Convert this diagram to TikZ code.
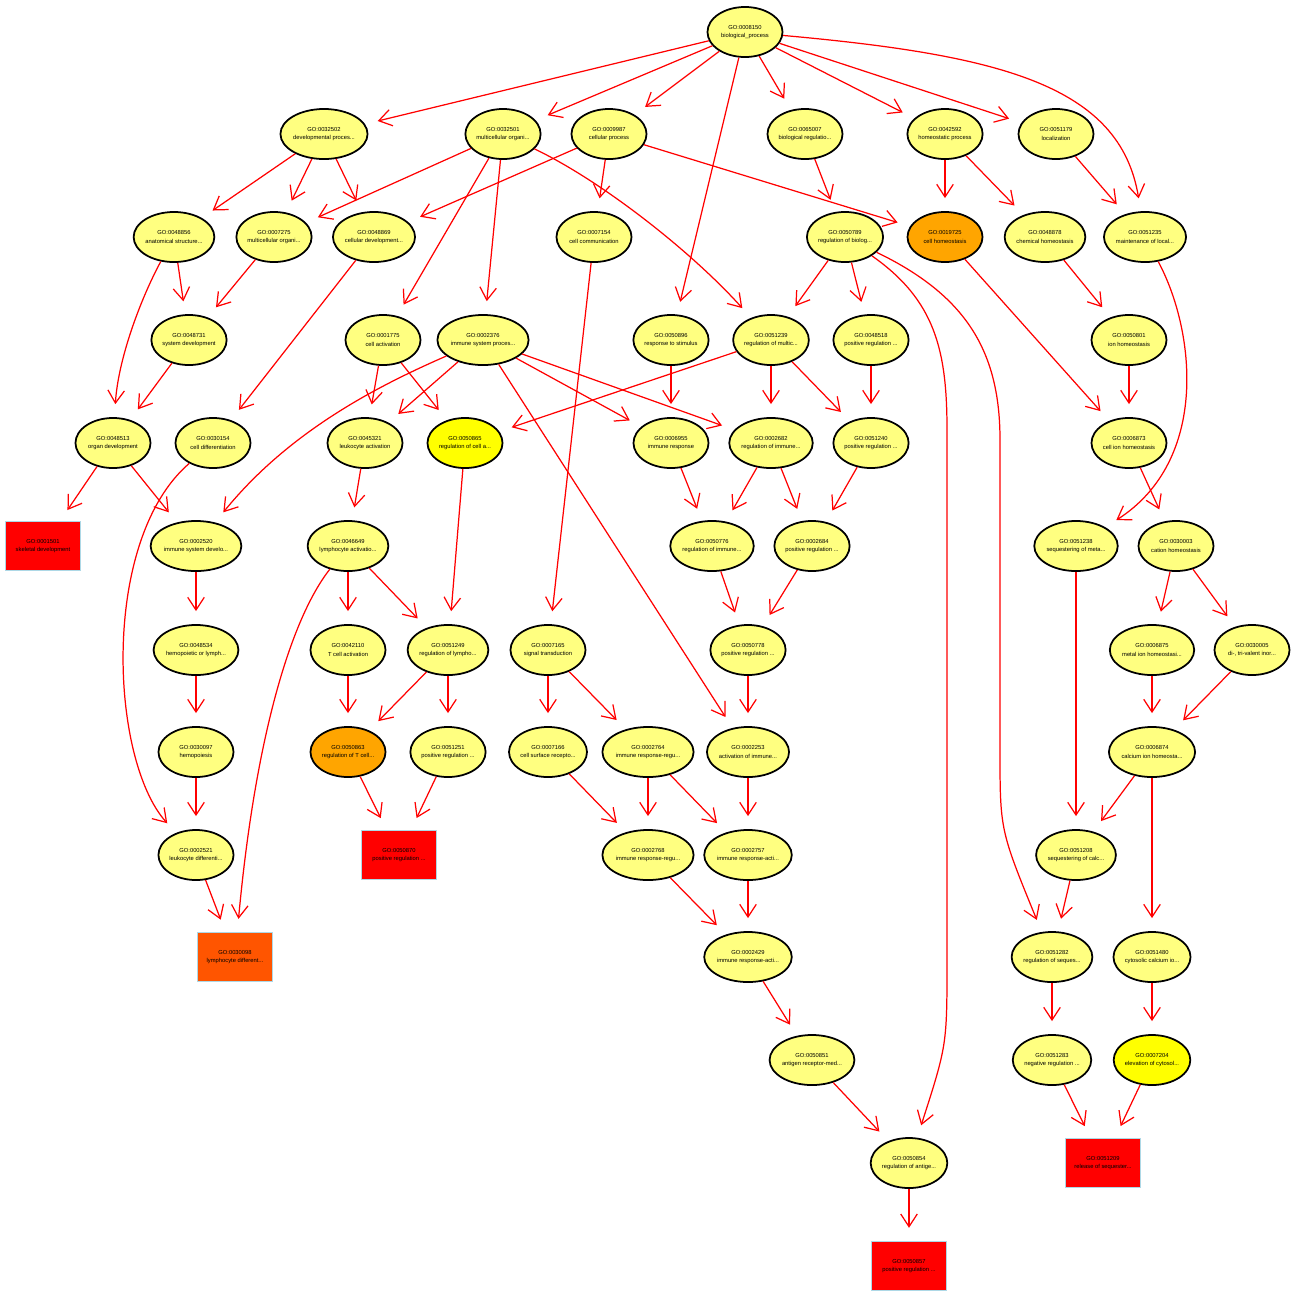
\documentclass[tikz,border=0pt]{standalone}
\usepackage{fontspec}
\setmainfont{Liberation Sans}
\usepackage{xcolor}
\usepackage{tikz}
\usetikzlibrary{arrows.meta,shapes.geometric}

\definecolor{pale}{RGB}{255,255,128}
\definecolor{bright}{RGB}{255,255,0}
\definecolor{orng}{RGB}{255,165,0}
\definecolor{dorng}{RGB}{255,85,0}
\definecolor{hot}{RGB}{255,0,0}
\definecolor{rim}{RGB}{173,216,230}

\begin{document}
\begin{tikzpicture}[x=0.01cm,y=0.01cm,
	go/.style={ellipse, draw=black, line width=0.5pt, fill=pale, minimum width=0.75cm, minimum height=0.5cm, inner sep=0pt, align=center, font=\fontsize{1.65}{2.3}\selectfont},
	gobox/.style={rectangle, draw=rim, line width=0.4pt, fill=hot, minimum width=0.75cm, minimum height=0.49cm, inner sep=0pt, align=center, font=\fontsize{1.65}{2.3}\selectfont},
	edge/.style={draw=red, line width=0.35pt, -{Straight Barb[length=3.6pt,width=4.7pt]}, shorten >=0.13cm}]
	\useasboundingbox (0,0) rectangle (1303,-1290);
	
	\node[go] (g0008150) at (745,-32) {GO:0008150\\biological\_process};
	
	\node[go] (g0032502) at (324,-134) {GO:0032502\\developmental proces...};
	\node[go] (g0032501) at (503,-134) {GO:0032501\\multicellular organi...};
	\node[go] (g0009987) at (609,-134) {GO:0009987\\cellular process};
	\node[go] (g0065007) at (805,-134) {GO:0065007\\biological regulatio...};
	\node[go] (g0042592) at (945,-134) {GO:0042592\\homeostatic process};
	\node[go] (g0051179) at (1056,-134) {GO:0051179\\localization};
	
	\node[go] (g0048856) at (174,-237) {GO:0048856\\anatomical structure...};
	\node[go] (g0007275) at (274,-237) {GO:0007275\\multicellular organi...};
	\node[go] (g0048869) at (374,-237) {GO:0048869\\cellular development...};
	\node[go] (g0007154) at (594,-237) {GO:0007154\\cell communication};
	\node[go] (g0050789) at (845,-237) {GO:0050789\\regulation of biolog...};
	\node[go, fill=orng] (g0019725) at (945,-237) {GO:0019725\\cell homeostasis};
	\node[go] (g0048878) at (1045,-237) {GO:0048878\\chemical homeostasis};
	\node[go] (g0051235) at (1145,-237) {GO:0051235\\maintenance of local...};
	
	\node[go] (g0048731) at (189,-340) {GO:0048731\\system development};
	\node[go] (g0001775) at (383,-340) {GO:0001775\\cell activation};
	\node[go] (g0002376) at (483,-340) {GO:0002376\\immune system proces...};
	\node[go] (g0050896) at (671,-340) {GO:0050896\\response to stimulus};
	\node[go] (g0051239) at (771,-340) {GO:0051239\\regulation of multic...};
	\node[go] (g0048518) at (871,-340) {GO:0048518\\positive regulation ...};
	\node[go] (g0050801) at (1129,-340) {GO:0050801\\ion homeostasis};
	
	\node[go] (g0048513) at (113,-443) {GO:0048513\\organ development};
	\node[go] (g0030154) at (213,-443) {GO:0030154\\cell differentiation};
	\node[go] (g0045321) at (365,-443) {GO:0045321\\leukocyte activation};
	\node[go, fill=bright] (g0050865) at (465,-443) {GO:0050865\\regulation of cell a...};
	\node[go] (g0006955) at (671,-443) {GO:0006955\\immune response};
	\node[go] (g0002682) at (771,-443) {GO:0002682\\regulation of immune...};
	\node[go] (g0051240) at (871,-443) {GO:0051240\\positive regulation ...};
	\node[go] (g0006873) at (1129,-443) {GO:0006873\\cell ion homeostasis};
	
	\node[gobox] (g0001501) at (43,-546) {GO:0001501\\skeletal development};
	\node[go] (g0002520) at (196,-546) {GO:0002520\\immune system develo...};
	\node[go] (g0046649) at (348,-546) {GO:0046649\\lymphocyte activatio...};
	\node[go] (g0050776) at (712,-546) {GO:0050776\\regulation of immune...};
	\node[go] (g0002684) at (812,-546) {GO:0002684\\positive regulation ...};
	\node[go] (g0051238) at (1076,-546) {GO:0051238\\sequestering of meta...};
	\node[go] (g0030003) at (1176,-546) {GO:0030003\\cation homeostasis};
	
	\node[go] (g0048534) at (196,-650) {GO:0048534\\hemopoietic or lymph...};
	\node[go] (g0042110) at (348,-650) {GO:0042110\\T cell activation};
	\node[go] (g0051249) at (448,-650) {GO:0051249\\regulation of lympho...};
	\node[go] (g0007165) at (548,-650) {GO:0007165\\signal transduction};
	\node[go] (g0050778) at (748,-650) {GO:0050778\\positive regulation ...};
	\node[go] (g0006875) at (1152,-650) {GO:0006875\\metal ion homeostasi...};
	\node[go] (g0030005) at (1252,-650) {GO:0030005\\di-, tri-valent inor...};
	
	\node[go] (g0030097) at (196,-752) {GO:0030097\\hemopoiesis};
	\node[go, fill=orng] (g0050863) at (348,-752) {GO:0050863\\regulation of T cell...};
	\node[go] (g0051251) at (448,-752) {GO:0051251\\positive regulation ...};
	\node[go] (g0007166) at (548,-752) {GO:0007166\\cell surface recepto...};
	\node[go] (g0002764) at (648,-752) {GO:0002764\\immune response-regu...};
	\node[go] (g0002253) at (748,-752) {GO:0002253\\activation of immune...};
	\node[go] (g0006874) at (1152,-752) {GO:0006874\\calcium ion homeosta...};
	
	\node[go] (g0002521) at (196,-855) {GO:0002521\\leukocyte differenti...};
	\node[gobox] (g0050870) at (399,-855) {GO:0050870\\positive regulation ...};
	\node[go] (g0002768) at (648,-855) {GO:0002768\\immune response-regu...};
	\node[go] (g0002757) at (748,-855) {GO:0002757\\immune response-acti...};
	\node[go] (g0051208) at (1076,-855) {GO:0051208\\sequestering of calc...};
	
	\node[gobox, fill=dorng] (g0030098) at (235,-957) {GO:0030098\\lymphocyte different...};
	\node[go] (g0002429) at (748,-957) {GO:0002429\\immune response-acti...};
	\node[go] (g0051282) at (1052,-957) {GO:0051282\\regulation of seques...};
	\node[go] (g0051480) at (1152,-957) {GO:0051480\\cytosolic calcium io...};
	
	\node[go] (g0050851) at (812,-1060) {GO:0050851\\antigen receptor-med...};
	\node[go] (g0051283) at (1052,-1060) {GO:0051283\\negative regulation ...};
	\node[go, fill=bright] (g0007204) at (1152,-1060) {GO:0007204\\elevation of cytosol...};
	
	\node[go] (g0050854) at (909,-1163) {GO:0050854\\regulation of antige...};
	\node[gobox] (g0051209) at (1103,-1163) {GO:0051209\\release of sequester...};
	
	\node[gobox] (g0050857) at (909,-1266) {GO:0050857\\positive regulation ...};
	
	\foreach \a/\b in {0008150/0032502, 0008150/0032501, 0008150/0009987, 0008150/0050896,
		0008150/0065007, 0008150/0042592, 0008150/0051179,
		0032502/0048856, 0032502/0007275, 0032502/0048869,
		0032501/0007275, 0032501/0001775, 0032501/0002376,
		0009987/0048869, 0009987/0007154, 0009987/0019725,
		0065007/0050789, 0042592/0019725, 0042592/0048878, 0051179/0051235,
		0048856/0048731, 0007275/0048731, 0048869/0030154, 0007154/0007165,
		0050789/0051239, 0050789/0048518, 0019725/0006873, 0048878/0050801,
		0048731/0048513, 0001775/0045321, 0001775/0050865,
		0002376/0045321, 0002376/0006955, 0002376/0002682, 0002376/0002253,
		0050896/0006955, 0051239/0050865, 0051239/0002682, 0051239/0051240,
		0048518/0051240, 0050801/0006873,
		0048513/0001501, 0048513/0002520, 0045321/0046649, 0050865/0051249,
		0006955/0050776, 0002682/0050776, 0002682/0002684, 0051240/0002684,
		0006873/0030003, 0002520/0048534, 0046649/0042110, 0046649/0051249,
		0050776/0050778, 0002684/0050778, 0051238/0051208,
		0030003/0006875, 0030003/0030005, 0048534/0030097, 0042110/0050863,
		0051249/0050863, 0051249/0051251, 0007165/0007166, 0007165/0002764,
		0050778/0002253, 0006875/0006874, 0030005/0006874, 0030097/0002521,
		0050863/0050870, 0051251/0050870, 0007166/0002768,
		0002764/0002768, 0002764/0002757, 0002253/0002757,
		0006874/0051208, 0006874/0051480, 0002521/0030098,
		0002768/0002429, 0002757/0002429, 0051208/0051282,
		0002429/0050851, 0051282/0051283, 0051480/0007204,
		0050851/0050854, 0051283/0051209, 0007204/0051209, 0050854/0050857}{
		\draw[edge] (g\a) -- (g\b);
	}
	
	\draw[edge] (g0008150) .. controls (1000,-55) and (1120,-85) .. (g0051235);
	\draw[edge] (g0032501) .. controls (600,-180) and (690,-250) .. (g0051239);
	\draw[edge] (g0048856) .. controls (140,-300) and (118,-360) .. (g0048513);
	\draw[edge] (g0002376) .. controls (380,-385) and (290,-430) .. (g0002520);
	\draw[edge] (g0030154) .. controls (100,-540) and (110,-760) .. (g0002521);
	\draw[edge] (g0046649) .. controls (290,-620) and (255,-740) .. (g0030098);
	\draw[edge] (g0050789) .. controls (935,-300) and (947,-350) .. (947,-430) -- (947,-960) .. controls (947,-1045) .. (g0050854);
	\draw[edge] (g0050789) .. controls (965,-295) and (1000,-350) .. (1000,-440) -- (1000,-750) .. controls (1000,-830) .. (g0051282);
	\draw[edge] (g0051235) .. controls (1195,-330) and (1210,-460) .. (g0051238);
\end{tikzpicture}
\end{document}
